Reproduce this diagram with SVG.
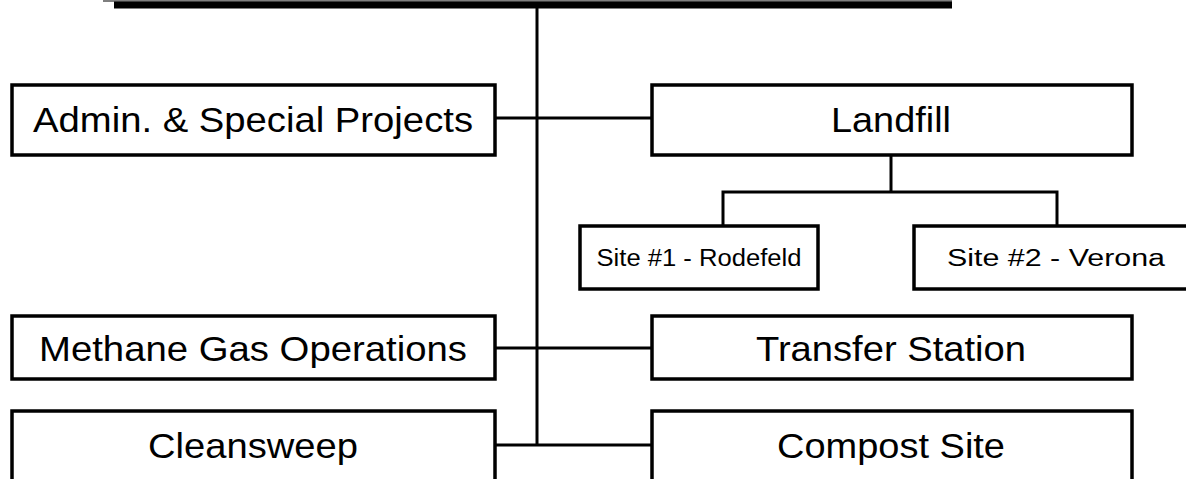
<svg xmlns="http://www.w3.org/2000/svg" width="1186" height="479" viewBox="0 0 1186 479">
<style>
.box{fill:#fff;stroke:#000;stroke-width:3.5}
.t{font-family:"Liberation Sans",Arial,sans-serif;font-size:35px;fill:#000;text-anchor:middle}
.s{font-family:"Liberation Sans",Arial,sans-serif;font-size:23px;fill:#000;text-anchor:middle}
.c{stroke:#000;stroke-width:3;fill:none}
</style>
<rect width="1186" height="479" fill="#fff"/>
<g id="top">
<line x1="103" y1="1" x2="952" y2="1" stroke="#555" stroke-width="1.5"/>
<rect x="114" y="1.5" width="838" height="7" fill="#000"/>
</g>
<g id="connectors">
<line class="c" x1="537" y1="8" x2="537" y2="445" stroke-width="4"/>
<line class="c" x1="495" y1="118" x2="652" y2="118"/>
<line class="c" x1="495" y1="348" x2="652" y2="348"/>
<line class="c" x1="495" y1="445" x2="652" y2="445"/>
<polyline class="c" points="891,155 891,192"/>
<polyline class="c" points="723,226 723,192 1057,192 1057,226"/>
</g>
<g id="admin"><rect class="box" x="12" y="85" width="483" height="70"/><text class="t" x="253" y="132" textLength="440" lengthAdjust="spacingAndGlyphs">Admin. &amp; Special Projects</text></g>
<g id="landfill"><rect class="box" x="652" y="85" width="480" height="70"/><text class="t" x="891" y="132" textLength="120" lengthAdjust="spacingAndGlyphs">Landfill</text></g>
<g id="site1"><rect class="box" x="580" y="226" width="238" height="63"/><text class="s" x="699" y="266" textLength="205" lengthAdjust="spacingAndGlyphs">Site #1 - Rodefeld</text></g>
<g id="site2"><rect class="box" x="914" y="226" width="290" height="63"/><text class="s" x="1056" y="266" textLength="218" lengthAdjust="spacingAndGlyphs">Site #2 - Verona</text></g>
<g id="methane"><rect class="box" x="12" y="316" width="483" height="63"/><text class="t" x="253" y="361" textLength="428" lengthAdjust="spacingAndGlyphs">Methane Gas Operations</text></g>
<g id="transfer"><rect class="box" x="652" y="316" width="480" height="63"/><text class="t" x="891" y="361" textLength="270" lengthAdjust="spacingAndGlyphs">Transfer Station</text></g>
<g id="cleansweep"><rect class="box" x="12" y="411" width="483" height="80"/><text class="t" x="253" y="458" textLength="210" lengthAdjust="spacingAndGlyphs">Cleansweep</text></g>
<g id="compost"><rect class="box" x="652" y="411" width="480" height="80"/><text class="t" x="891" y="458" textLength="228" lengthAdjust="spacingAndGlyphs">Compost Site</text></g>
</svg>
